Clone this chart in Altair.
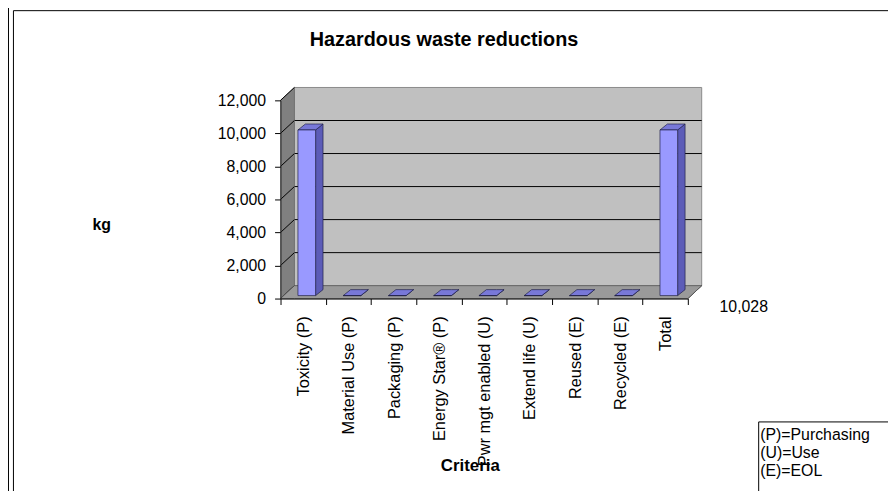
import altair as alt
import pandas as pd

# ---- data ----
categories = ["Toxicity (P)", "Material Use (P)", "Packaging (P)", "Energy Star® (P)",
              "Pwr mgt enabled (U)", "Extend life (U)", "Reused (E)", "Recycled (E)", "Total"]
values = [10028, 0, 0, 0, 0, 0, 0, 0, 10028]
y_ticks = [0, 2000, 4000, 6000, 8000, 10000, 12000]
title_text = "Hazardous waste reductions"
y_title = "kg"
x_title = "Criteria"
legend_lines = ["(P)=Purchasing", "(U)=Use", "(E)=EOL"]

FONT = "Liberation Sans, Arial, sans-serif"

# ---- geometry (plot area in px, 3D depth in px) ----
W, H = 411, 200
XMAX, YMAX = len(categories), 12000
ux = XMAX / W
uy = YMAX / H
WALL_DX, WALL_DY = 14 * ux, 13 * uy
BAR_DX, BAR_DY = 7.5 * ux, 6 * uy
BAR_L, BAR_R = 0.385, 0.775

xs = alt.Scale(domain=[0, XMAX], nice=False, zero=False)
ys = alt.Scale(domain=[0, YMAX], nice=False, zero=False)

AX = alt.Axis(values=list(range(XMAX + 1)), labels=False, tickSize=6, tickColor="black",
              domainColor="black", grid=False, title=x_title, titleFont=FONT,
              titleFontSize=17, titleFontWeight="bold", titleColor="black",
              titleX=191, titleY=174, titleBaseline="alphabetic", titleAlign="center",
              zindex=1)
AY = alt.Axis(values=y_ticks, format=",d", labelFont=FONT, labelFontSize=16,
              labelColor="black", tickSize=6, tickColor="black", labelPadding=9,
              domainColor="#303030", grid=False, title=y_title, titleFont=FONT,
              titleFontSize=16, titleFontWeight="bold", titleColor="black",
              titleAngle=0, titleX=-181, titleY=130, titleBaseline="alphabetic",
              titleAlign="center", zindex=1)


def X(f):
    return alt.X(f, type="quantitative", scale=xs, axis=AX)


def Y(f):
    return alt.Y(f, type="quantitative", scale=ys, axis=AY)


# back wall
back = pd.DataFrame({"x": [WALL_DX], "x2": [XMAX + WALL_DX], "y": [WALL_DY], "y2": [YMAX + WALL_DY]})
back_layer = alt.Chart(back).mark_rect(fill="#c0c0c0", stroke="#8a8a8a", strokeWidth=1).encode(
    x=X("x"), x2="x2:Q", y=Y("y"), y2="y2:Q")

# gridlines on back wall
grid = pd.DataFrame({"x": [WALL_DX] * 5, "x2": [XMAX + WALL_DX] * 5,
                     "y": [v + WALL_DY for v in y_ticks[1:-1]]})
grid_layer = alt.Chart(grid).mark_rule(color="black", strokeWidth=1).encode(
    x=X("x"), x2="x2:Q", y=Y("y"))

# side wall
side = pd.DataFrame({"x": [0, WALL_DX], "lo": [0, WALL_DY], "hi": [YMAX, YMAX + WALL_DY]})
side_layer = alt.Chart(side).mark_area(fill="#808080", stroke="#6a6a6a", strokeWidth=0.8).encode(
    x=X("x"), y=Y("lo"), y2="hi:Q")

# floor
floor = pd.DataFrame({"x": [0, WALL_DX, XMAX, XMAX + WALL_DX],
                      "lo": [0, 0, 0, WALL_DY], "hi": [0, WALL_DY, WALL_DY, WALL_DY]})
floor_layer = alt.Chart(floor).mark_area(fill="#9a9a9a", stroke="#5a5a5a", strokeWidth=0.8).encode(
    x=X("x"), y=Y("lo"), y2="hi:Q")

# diagonal depth lines on the side wall
diag = pd.DataFrame({"x": [0] * len(y_ticks) + [XMAX], "x2": [WALL_DX] * len(y_ticks) + [XMAX + WALL_DX],
                     "y": y_ticks + [0], "y2": [v + WALL_DY for v in y_ticks] + [WALL_DY]})
diag_layer = alt.Chart(diag).mark_rule(color="black", strokeWidth=1).encode(
    x=X("x"), x2="x2:Q", y=Y("y"), y2="y2:Q")

# bars
front_rows, side_rows, top_rows = [], [], []
for i, (c, v) in enumerate(zip(categories, values)):
    l, r = i + BAR_L, i + BAR_R
    front_rows.append({"cat": c, "l": l, "r": r, "v": v, "z": 0})
    side_rows += [{"cat": c, "x": r, "lo": 0, "hi": v},
                  {"cat": c, "x": r + BAR_DX, "lo": BAR_DY, "hi": v + BAR_DY}]
    top_rows += [{"cat": c, "x": l, "lo": v, "hi": v},
                 {"cat": c, "x": l + BAR_DX, "lo": v, "hi": v + BAR_DY},
                 {"cat": c, "x": r, "lo": v, "hi": v + BAR_DY},
                 {"cat": c, "x": r + BAR_DX, "lo": v + BAR_DY, "hi": v + BAR_DY}]

BAR_STROKE = "#22224a"
bar_side = alt.Chart(pd.DataFrame(side_rows)).mark_area(
    fill="#5c5cb8", stroke=BAR_STROKE, strokeWidth=0.7, yOffset=-3, y2Offset=-3).encode(
    x=X("x"), y=Y("lo"), y2="hi:Q", detail="cat:N")
bar_top = alt.Chart(pd.DataFrame(top_rows)).mark_area(
    fill="#7878d8", stroke=BAR_STROKE, strokeWidth=0.7, yOffset=-3, y2Offset=-3).encode(
    x=X("x"), y=Y("lo"), y2="hi:Q", detail="cat:N")
bar_front = alt.Chart(pd.DataFrame(front_rows)).mark_rect(
    fill="#9999ff", stroke=BAR_STROKE, strokeWidth=0.7, yOffset=-3, y2Offset=-3).encode(
    x=X("l"), x2="r:Q", y=Y("v"), y2="z:Q")

# category labels
lab = pd.DataFrame({"cat": categories, "pos": [i + 0.5 for i in range(len(categories))], "y0": [0] * len(categories)})
label_layer = alt.Chart(lab).mark_text(
    angle=270, align="right", baseline="middle", font=FONT, fontSize=16.5, color="black", yOffset=18, xOffset=1).encode(
    x=X("pos"), y=Y("y0"), text="cat:N")

one = pd.DataFrame({"t": [title_text], "total": [values[-1]]})
title_layer = alt.Chart(one).mark_text(
    align="center", baseline="alphabetic", font=FONT, fontSize=20, fontWeight="bold", color="black").encode(
    x=alt.value(165), y=alt.value(-55), text="t:N")
total_layer = alt.Chart(one).mark_text(
    align="left", baseline="alphabetic", font=FONT, fontSize=16, color="black").encode(
    x=alt.value(443), y=alt.value(214), text=alt.Text("total:Q", format=",d"))

# legend box
legend_box = alt.Chart(one).mark_rect(fill="white", stroke="black", strokeWidth=1).encode(
    x=alt.value(482.5), x2=alt.value(640), y=alt.value(324.5), y2=alt.value(420))
legend_text = alt.Chart(one).mark_text(
    align="left", baseline="alphabetic", font=FONT, fontSize=16, color="black", lineHeight=18.3).encode(
    x=alt.value(484), y=alt.value(342.7), text=alt.value(legend_lines))

# outer frame lines
frame1 = alt.Chart(one).mark_rule(color="black", strokeWidth=1).encode(
    x=alt.value(-274.5), y=alt.value(-95), y2=alt.value(400))
frame2 = alt.Chart(one).mark_rule(color="black", strokeWidth=1).encode(
    x=alt.value(-269.5), y=alt.value(-90.5), y2=alt.value(400))
frame3 = alt.Chart(one).mark_rule(color="black", strokeWidth=1).encode(
    x=alt.value(-269.5), x2=alt.value(640), y=alt.value(-90.5))

chart = alt.layer(
    back_layer, grid_layer, side_layer, diag_layer, floor_layer,
    bar_side, bar_top, bar_front, label_layer, title_layer, total_layer,
    legend_box, legend_text, frame1, frame2, frame3,
).properties(
    width=W, height=H,
    padding={"left": 275, "top": 91, "right": 202, "bottom": 192},
    autosize=alt.AutoSizeParams(type="none"),
    background="white",
).configure_view(stroke=None)

chart.save("out.html", embed_options={"renderer": "svg", "actions": False})
